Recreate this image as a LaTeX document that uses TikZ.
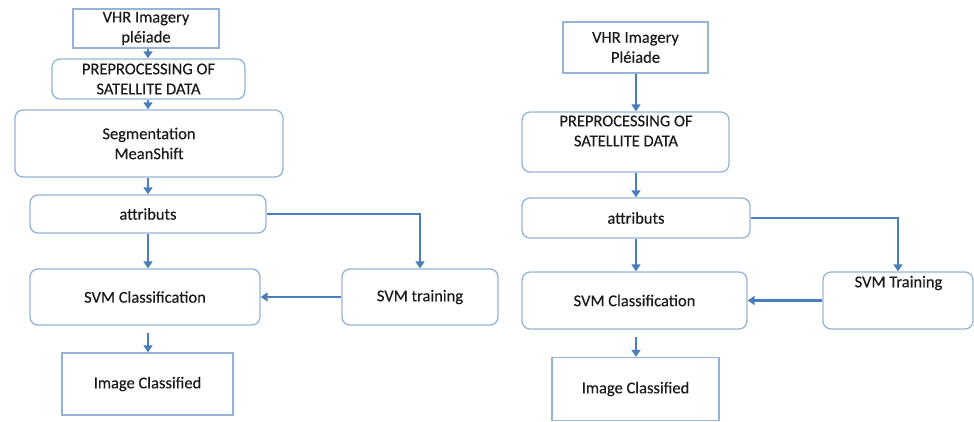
\documentclass[tikz,border=0pt]{standalone}
\usepackage{fontspec}
\setmainfont{Carlito}[BoldFont=Carlito, BoldFeatures={FakeBold=0.35}]
\usetikzlibrary{arrows.meta}
\definecolor{boxc}{HTML}{95B3D7}
\definecolor{arrc}{HTML}{4A7EBB}
\definecolor{txtc}{HTML}{1A1A1A}
\tikzset{
  sbox/.style={draw=boxc, line width=1.3pt, rectangle, inner sep=0pt, align=center, text=txtc,
    font=\fontsize{16.5}{20}\bfseries},
  rbox/.style={sbox, rounded corners=8pt},
  txt/.style={inner sep=0pt, align=center, text=txtc, font=\fontsize{16.5}{20}\bfseries},
  arr/.style={draw=arrc, line width=2.2pt, -{Triangle[length=7pt,width=9pt]}},
}
\begin{document}
\begin{tikzpicture}[x=1pt,y=-1pt]
\useasboundingbox (0,0) rectangle (974,421);
% left diagram
\node[sbox, minimum width=146, minimum height=39] (lvhr) at (146,28.5) {VHR Imagery\\pléiade};
\node[rbox, minimum width=193, minimum height=40] (lpre) at (148.5,79) {PREPROCESSING OF\\SATELLITE DATA};
\node[rbox, minimum width=268, minimum height=67] (lseg) at (149,143.5) {Segmentation\\MeanShift};
\node[rbox, minimum width=236, minimum height=38] (latt) at (148,214) {attributs};
\node[rbox, minimum width=230, minimum height=56] (lcls) at (145,297) {SVM Classification};
\node[rbox, minimum width=156, minimum height=56] (ltrn) at (420,297) {SVM training};
\node[sbox, minimum width=171, minimum height=62] (limg) at (147.5,384) {Image Classified};
\coordinate (lx) at (148,0);
\draw[arr] (lvhr.south -| lx) -- (lpre.north -| lx);
\draw[arr] (lpre.south -| lx) -- (lseg.north -| lx);
\draw[arr] (lseg.south -| lx) -- (latt.north -| lx);
\draw[arr] (latt.south -| lx) -- (lcls.north -| lx);
\draw[arr, shorten <=7pt] (lcls.south -| lx) -- (limg.north -| lx);
\draw[arr] (latt.east) -| (ltrn.north);
\draw[arr] (ltrn.west) -- (lcls.east);
% right diagram
\node[sbox, minimum width=145, minimum height=51] (rvhr) at (635.5,47.5) {VHR Imagery\\Pléiade};
\node[rbox, minimum width=207, minimum height=60] (rpre) at (625.5,142) {};
\node[txt] (rpret) at (626,131) {PREPROCESSING OF\\SATELLITE DATA};
\node[rbox, minimum width=228, minimum height=40] (ratt) at (636,218) {attributs};
\node[rbox, minimum width=225, minimum height=57] (rcls) at (634.5,300.5) {SVM Classification};
\node[rbox, minimum width=150, minimum height=57] (rtrn) at (898,300.5) {};
\node[txt] (rtrnt) at (898.5,283) {SVM Training};
\node[sbox, minimum width=167, minimum height=63] (rimg) at (635.5,389) {Image Classified};
\coordinate (rx) at (636,0);
\draw[arr] (rvhr.south -| rx) -- (rpre.north -| rx);
\draw[arr] (rpre.south -| rx) -- (ratt.north -| rx);
\draw[arr] (ratt.south -| rx) -- (rcls.north -| rx);
\draw[arr, shorten <=7pt] (rcls.south -| rx) -- (rimg.north -| rx);
\draw[arr] (ratt.east) -| (rtrn.north);
\draw[arr] (rtrn.west) -- (rcls.east);
\end{tikzpicture}
\end{document}
